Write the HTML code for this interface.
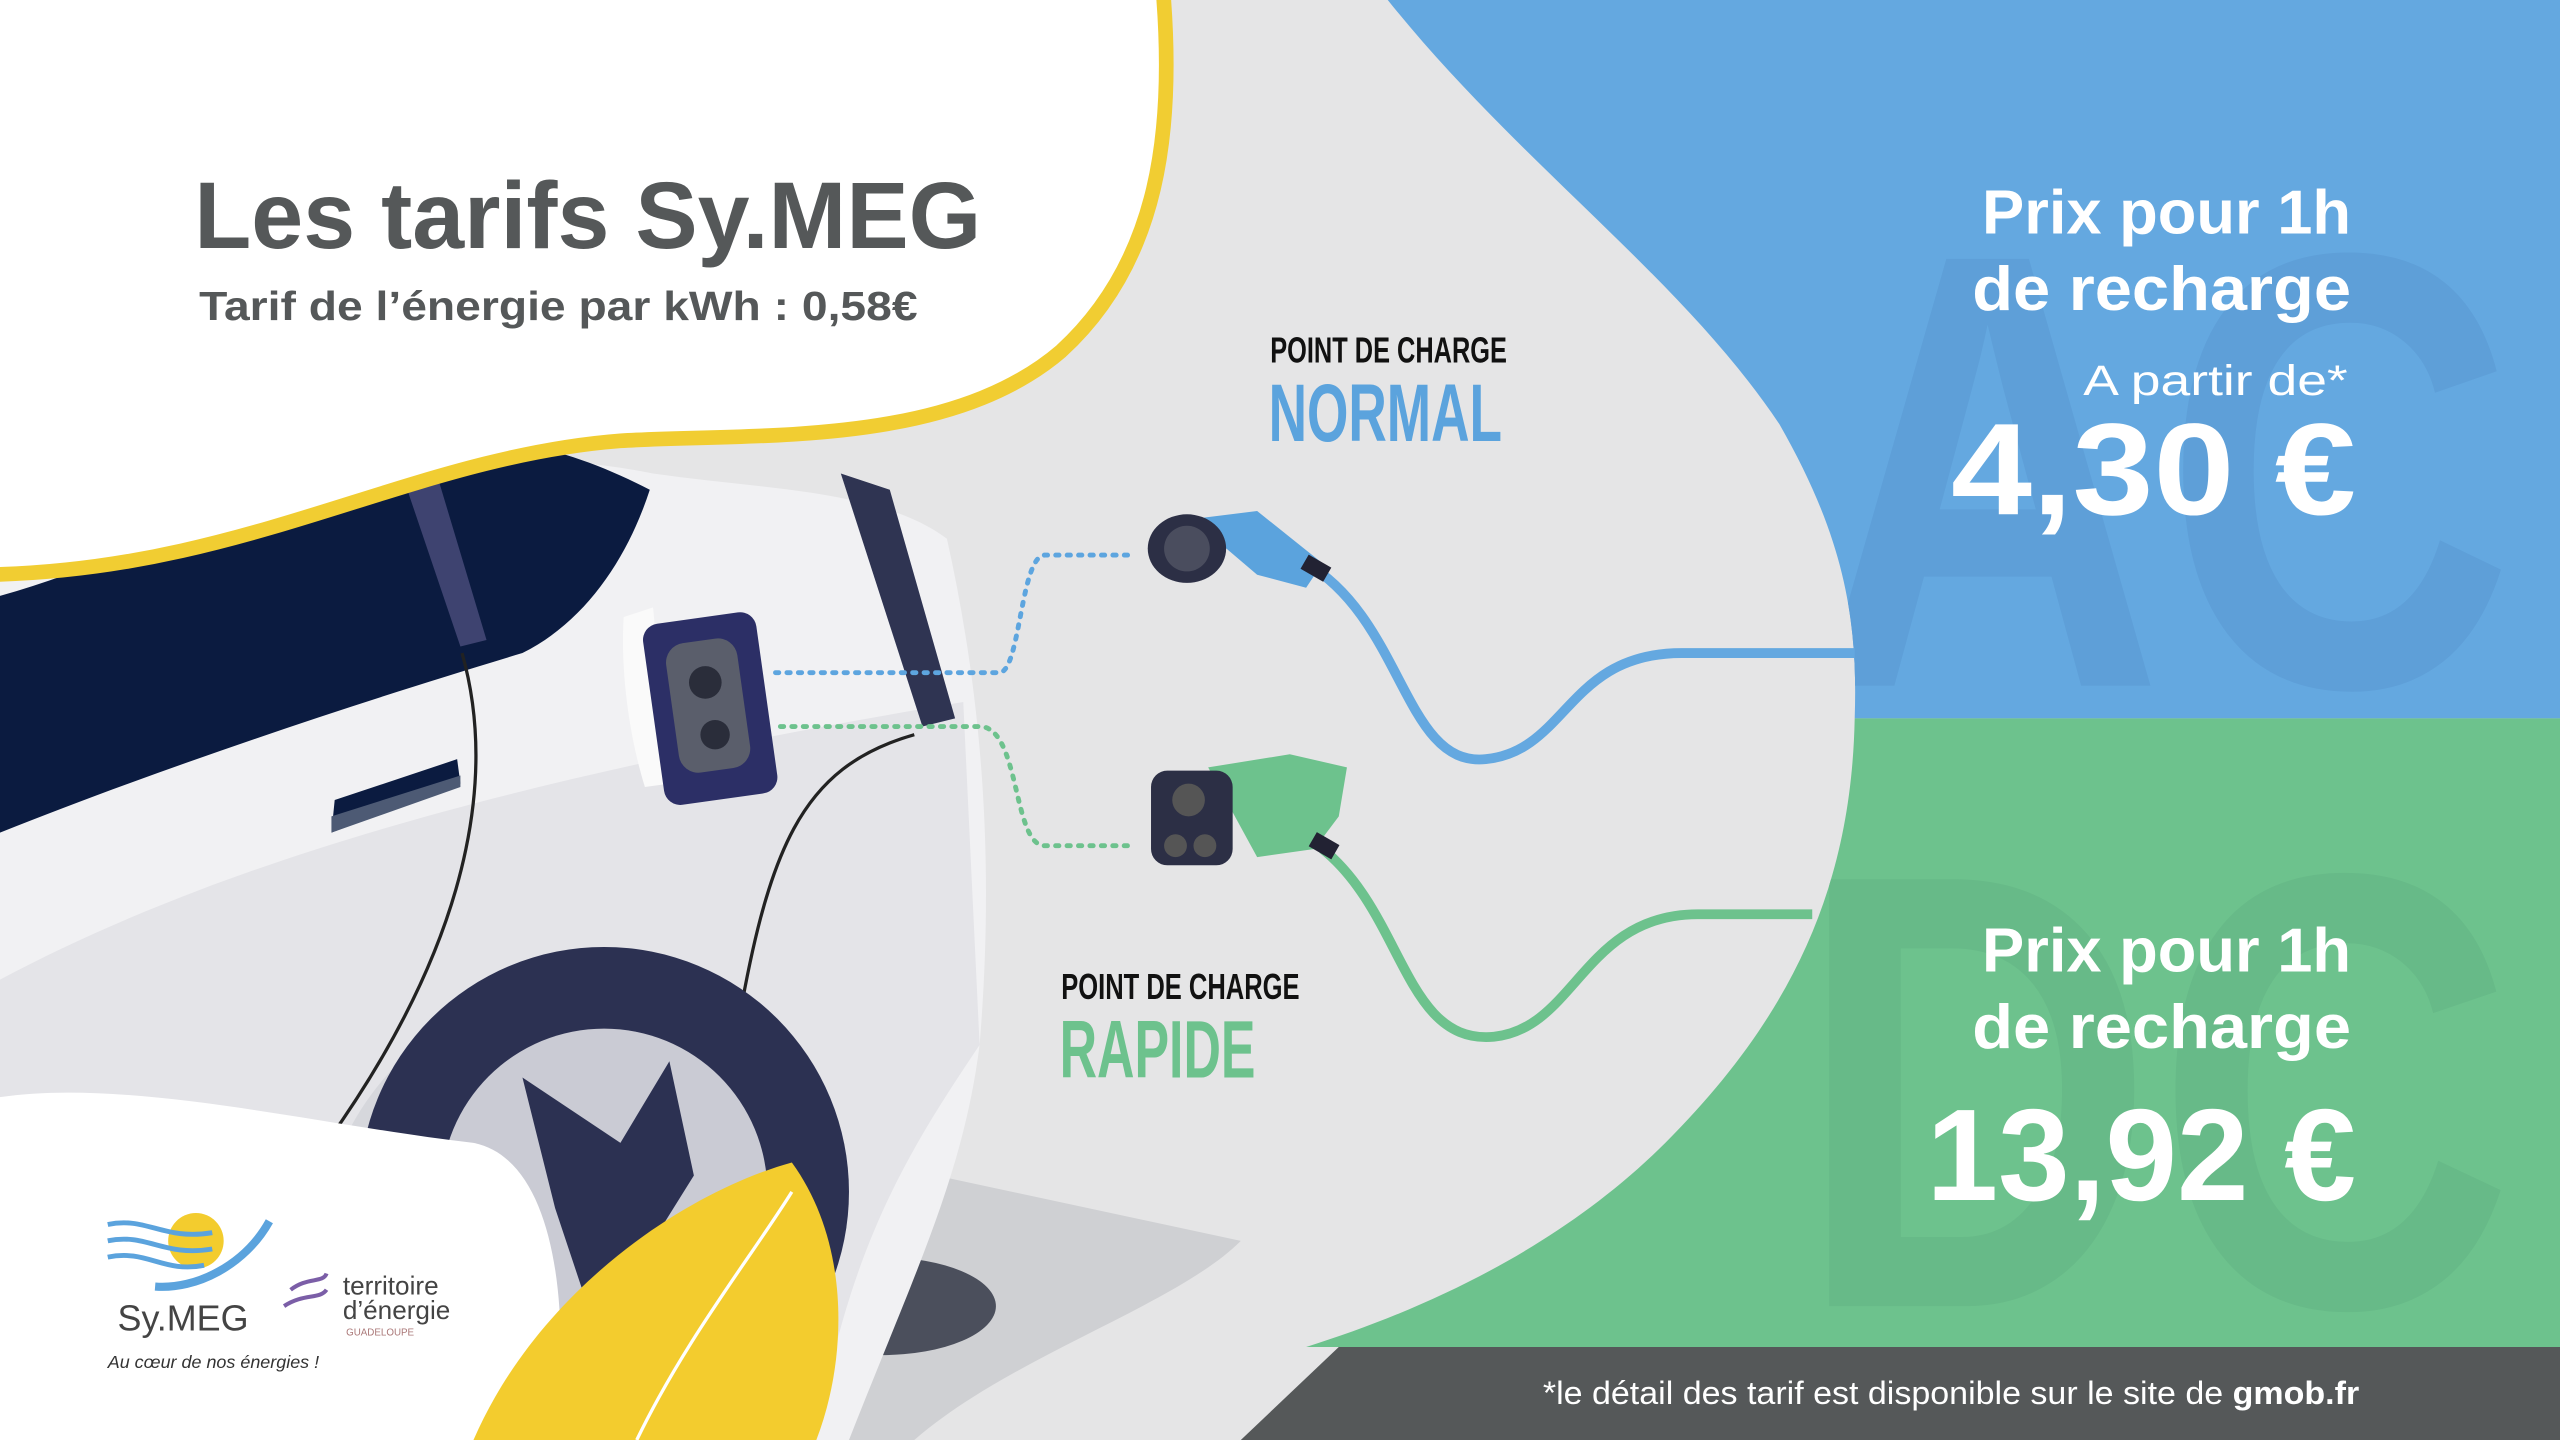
<!DOCTYPE html>
<html><head><meta charset="utf-8"><style>
html,body{margin:0;padding:0;width:2560px;height:1440px;overflow:hidden;background:#e5e5e6}
svg{display:block}
text{font-family:"Liberation Sans",sans-serif}
.n{font-family:"Liberation Sans",sans-serif;font-weight:bold}
</style></head><body>
<svg width="2560" height="1440" viewBox="0 0 1568 882" xmlns="http://www.w3.org/2000/svg">
<defs>
<clipPath id="cb"><path d="M850 0 C930 100 1030 170 1090 260 C1130 330 1138 380 1136 440 L1568 440 L1568 0 Z"/></clipPath>
<clipPath id="cg"><path d="M1136 440 C1134 540 1100 620 1020 700 C960 760 880 800 800 825 L1568 825 L1568 440 Z"/></clipPath>
</defs>
<rect width="1568" height="882" fill="#e5e5e6"/>
<!-- blue region -->
<path d="M850 0 C930 100 1030 170 1090 260 C1130 330 1138 380 1136 440 L1568 440 L1568 0 Z" fill="#64a8e0"/>
<text clip-path="url(#cb)" x="1110" y="420" font-size="380" font-weight="bold" fill="#5e9fd8" textLength="430" lengthAdjust="spacingAndGlyphs">AC</text>
<!-- green region -->
<path d="M1136 440 C1134 540 1100 620 1020 700 C960 760 880 800 800 825 L1568 825 L1568 440 Z" fill="#6dc28d"/>
<text clip-path="url(#cg)" x="1100" y="800" font-size="380" font-weight="bold" fill="#67ba88" textLength="440" lengthAdjust="spacingAndGlyphs">DC</text>
<!-- dark footer -->
<path d="M820 825 L1568 825 L1568 882 L760 882 Z" fill="#555859"/>
<text x="1445" y="860" font-size="20" fill="#fff" text-anchor="end" textLength="500" lengthAdjust="spacingAndGlyphs">*le détail des tarif est disponible sur le site de <tspan font-weight="bold">gmob.fr</tspan></text>

<!-- ground shadow -->
<path d="M480 700 L760 760 C720 800 620 830 560 882 L300 882 Z" fill="#cfd0d3"/>
<ellipse cx="540" cy="800" rx="70" ry="30" fill="#4b4f5c"/>
<!-- car body -->
<path d="M0 340 C120 320 250 260 400 290 C470 300 540 300 580 330 C600 420 610 520 600 640 C590 720 560 780 520 882 L0 882 Z" fill="#f1f1f3"/>
<path d="M0 600 C150 520 350 470 590 430 L600 640 C560 700 520 760 500 882 L0 882 Z" fill="#e4e4e8"/>
<!-- window -->
<path d="M0 365 C90 340 170 290 240 270 C300 262 350 275 398 300 C385 340 360 380 320 400 C220 430 100 470 0 510 Z" fill="#0b1b40"/>
<path d="M240 272 L262 272 L298 392 L282 396 Z" fill="#3e4370"/>
<path d="M515 290 L545 300 L585 440 L565 445 Z" fill="#2f3452"/>
<path d="M283 400 C300 460 300 560 200 700" stroke="#222" stroke-width="2" fill="none"/>
<path d="M560 450 C490 470 470 520 450 640" stroke="#222" stroke-width="2" fill="none"/>
<path d="M205 490 L280 465 L282 480 L203 510 Z" fill="#0b1b40"/>
<path d="M203 500 L282 475 L282 482 L203 510 Z" fill="#4d5a74"/>
<!-- wheel -->
<path d="M210 700 C260 590 420 560 490 640 L500 882 L200 882 Z" fill="#d6d7dc"/>
<circle cx="370" cy="730" r="150" fill="#2c3152"/>
<circle cx="370" cy="730" r="100" fill="#cacbd4"/>
<path d="M320 660 L380 700 L410 650 L425 720 L400 760 L360 800 L340 740 Z" fill="#2c3152"/>
<!-- charging port -->
<path d="M382 378 L400 372 L410 480 L395 482 C385 450 380 410 382 378Z" fill="#fafafa"/>
<rect x="400" y="378" width="70" height="112" rx="10" fill="#2c2f66" transform="rotate(-8 435 434)"/>
<rect x="412" y="392" width="44" height="80" rx="12" fill="#5a5e6b" transform="rotate(-8 435 434)"/>
<circle cx="432" cy="418" r="10" fill="#2a2d3a"/>
<circle cx="438" cy="450" r="9" fill="#2a2d3a"/>
<!-- top-left white blob -->
<path d="M-10 -10 L712 -10 C720 80 710 160 650 215 C580 275 460 265 380 270 C250 280 150 350 -10 352 Z" fill="#fff" stroke="#f1cd32" stroke-width="9"/>
<text x="119" y="152" font-size="58" font-weight="bold" fill="#555859" textLength="482" lengthAdjust="spacingAndGlyphs">Les tarifs Sy.MEG</text>
<text x="122" y="196" font-size="25" font-weight="bold" fill="#555859" textLength="440" lengthAdjust="spacingAndGlyphs">Tarif de l’énergie par kWh : 0,58€</text>

<!-- dotted lines -->
<path d="M475 412 L612 412 C625 412 625 340 640 340 L695 340" stroke="#5da5df" stroke-width="3" stroke-dasharray="2 5" stroke-linecap="round" fill="none"/>
<path d="M478 445 L600 445 C625 445 620 518 640 518 L695 518" stroke="#6dc28d" stroke-width="3" stroke-dasharray="2 5" stroke-linecap="round" fill="none"/>
<!-- cables -->
<path d="M800 345 C860 380 860 470 910 465 C960 460 960 400 1030 400 L1136 400" stroke="#64a8e0" stroke-width="6" fill="none"/>
<path d="M810 520 C860 560 860 640 915 635 C965 630 970 560 1040 560 L1110 560" stroke="#6dc28d" stroke-width="6" fill="none"/>
<!-- AC plug -->
<path d="M730 318 L770 313 L810 345 L800 360 L770 352 Z" fill="#5ba3dd"/>
<ellipse cx="727" cy="336" rx="24" ry="21" fill="#2c2f45"/>
<circle cx="727" cy="336" r="14" fill="#4a4d5e"/>
<rect x="798" y="343" width="16" height="10" fill="#223" transform="rotate(30 806 348)"/>
<!-- DC plug -->
<path d="M740 470 L790 462 L825 470 L820 500 L805 520 L770 525 Z" fill="#6dc28d"/>
<rect x="705" y="472" width="50" height="58" rx="10" fill="#2c2f45"/>
<circle cx="728" cy="490" r="10" fill="#555"/>
<circle cx="720" cy="518" r="7" fill="#555"/><circle cx="738" cy="518" r="7" fill="#555"/>
<rect x="803" y="513" width="16" height="10" fill="#223" transform="rotate(30 811 518)"/>

<!-- labels -->
<text x="778" y="222" class="n" font-size="22" fill="#111" textLength="145" lengthAdjust="spacingAndGlyphs">POINT DE CHARGE</text>
<text x="777" y="270" class="n" font-size="50" fill="#5ba3dd" textLength="143" lengthAdjust="spacingAndGlyphs">NORMAL</text>
<text x="650" y="612" class="n" font-size="22" fill="#111" textLength="146" lengthAdjust="spacingAndGlyphs">POINT DE CHARGE</text>
<text x="649" y="660" class="n" font-size="50" fill="#6dc28d" textLength="120" lengthAdjust="spacingAndGlyphs">RAPIDE</text>

<!-- right texts -->
<g fill="#fff" font-weight="bold">
<text x="1214" y="143" font-size="38" textLength="226" lengthAdjust="spacingAndGlyphs">Prix pour 1h</text>
<text x="1208" y="190" font-size="38" textLength="232" lengthAdjust="spacingAndGlyphs">de recharge</text>
<text x="1276" y="242" font-size="26" font-weight="normal" textLength="162" lengthAdjust="spacingAndGlyphs">A partir de*</text>
<text x="1195" y="315" font-size="80" textLength="248" lengthAdjust="spacingAndGlyphs">4,30 €</text>
<text x="1214" y="595" font-size="38" textLength="226" lengthAdjust="spacingAndGlyphs">Prix pour 1h</text>
<text x="1208" y="642" font-size="38" textLength="232" lengthAdjust="spacingAndGlyphs">de recharge</text>
<text x="1180" y="735" font-size="80" textLength="263" lengthAdjust="spacingAndGlyphs">13,92 €</text>
</g>

<!-- bottom-left white blob -->
<path d="M0 672 C80 660 200 690 290 700 C340 710 350 800 340 882 L0 882 Z" fill="#fff"/>
<!-- leaf -->
<path d="M290 882 C330 790 420 730 485 712 C520 760 520 830 500 882 Z" fill="#f3cc2e"/>
<path d="M390 882 C420 820 460 770 485 730" stroke="#fff" stroke-width="2" fill="none"/>
<!-- logo -->
<circle cx="120" cy="760" r="17" fill="#f3cc2e"/>
<path d="M66 750 C90 745 100 760 130 755 M66 760 C90 755 100 770 130 765 M66 770 C90 765 100 780 125 775" stroke="#5ba3dd" stroke-width="3" fill="none"/>
<path d="M95 788 C120 790 150 775 165 748" stroke="#5ba3dd" stroke-width="5" fill="none"/>
<text x="72" y="815" font-size="22" fill="#444" font-family="Liberation Serif">Sy.MEG</text>
<text x="66" y="838" font-size="11" font-style="italic" fill="#333">Au cœur de nos énergies !</text>
<path d="M178 790 C188 782 198 786 200 780 M174 800 C186 792 196 796 200 790" stroke="#7b5ea7" stroke-width="2.5" fill="none"/>
<text x="210" y="793" font-size="16" fill="#444">territoire</text>
<text x="210" y="808" font-size="16" fill="#444">d’énergie</text>
<text x="212" y="818" font-size="6" fill="#a77">GUADELOUPE</text>
</svg>
</body></html>
